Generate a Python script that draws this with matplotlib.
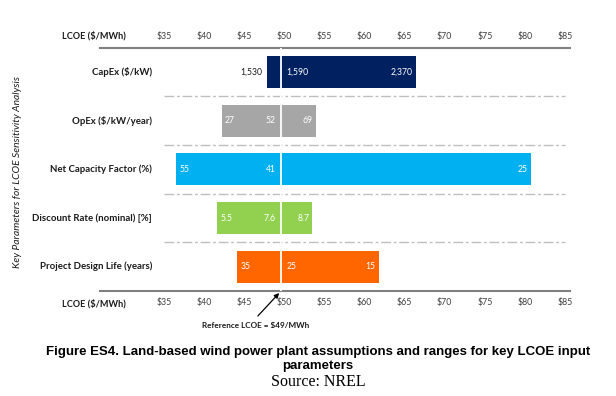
import matplotlib.pyplot as plt

# data
params = ['CapEx ($/kW)', 'OpEx ($/kW/year)', 'Net Capacity Factor (%)',
          'Discount Rate (nominal) [%]', 'Project Design Life (years)']
lcoe_low = [47.8, 42.2, 36.5, 41.6, 44.1]
lcoe_high = [66.4, 53.9, 80.7, 53.5, 61.8]
label_low = ['1,530', '27', '55', '5.5', '35']
label_base = ['1,590', '52', '41', '7.6', '25']
label_high = ['2,370', '69', '25', '8.7', '15']
base_on_right = [True, False, False, False, True]
colors = ['#002060', '#A6A6A6', '#00B0F0', '#92D050', '#FF6600']
ref_lcoe = 49.6
ticks = [35, 40, 45, 50, 55, 60, 65, 70, 75, 80, 85]

plt.rcParams['font.family'] = ['Lato', 'DejaVu Sans']

fig = plt.figure(figsize=(6.16, 3.96), dpi=100)
ax = fig.add_axes([100/616, 1-291/396, 470/616, (291-47.7)/396])

rows = list(range(len(params)))
ax.barh(rows, [h-l for l, h in zip(lcoe_low, lcoe_high)], left=lcoe_low,
        height=0.66, color=colors, edgecolor='none', zorder=2)
ax.axvline(ref_lcoe, color='white', linewidth=1.3, zorder=3)

vsize = 6.2
for i in rows:
    if i > 0:
        ax.plot([35, 85], [i-0.5, i-0.5], color='#BFBFBF', linewidth=1.0,
                linestyle=(0, (7, 2, 2, 2)), zorder=1)
    ax.text(33.5, i, params[i], ha='right', va='center', fontsize=6.9,
            fontweight='bold', color='#1a1a1a')
    # low end label
    if i == 0:
        ax.text(lcoe_low[i]-0.5, i, label_low[i], ha='right', va='center',
                fontsize=vsize, color='#1a1a1a')
    else:
        ax.text(lcoe_low[i]+0.4, i, label_low[i], ha='left', va='center',
                fontsize=vsize, color='white')
    if base_on_right[i]:
        ax.text(ref_lcoe+0.7, i, label_base[i], ha='left', va='center',
                fontsize=vsize, color='white')
    else:
        ax.text(ref_lcoe-0.7, i, label_base[i], ha='right', va='center',
                fontsize=vsize, color='white')
    ax.text(lcoe_high[i]-0.4, i, label_high[i], ha='right', va='center',
            fontsize=vsize, color='white')

ax.set_xlim(27.02, 85.62)
ax.set_ylim(4.5, -0.5)
ax.set_yticks([])
ax.set_xticks(ticks)
ax.set_xticklabels(['$%d' % t for t in ticks])
ax.tick_params(axis='x', length=0, labelsize=6.3, labelcolor='#404040',
               labeltop=True, labelbottom=True, pad=5)
for side in ['left', 'right']:
    ax.spines[side].set_visible(False)
for side in ['top', 'bottom']:
    ax.spines[side].set_color('#7F7F7F')
    ax.spines[side].set_linewidth(1.5)

fig.text(94/616, 1-36/396, 'LCOE ($/MWh)', ha='center', va='center',
         fontsize=6.6, fontweight='bold', color='#1a1a1a')
fig.text(94/616, 1-304/396, 'LCOE ($/MWh)', ha='center', va='center',
         fontsize=6.6, fontweight='bold', color='#1a1a1a')
fig.text(18/616, 1-172/396, 'Key Parameters for LCOE Sensitivity Analysis',
         rotation=90, ha='center', va='center', fontsize=7.4,
         style='italic', color='#1a1a1a')

ax.annotate('', xy=(ref_lcoe, 0.0), xycoords=('data', 'axes fraction'),
            xytext=(256/616, 1-318/396), textcoords='figure fraction',
            arrowprops=dict(arrowstyle='-|>', color='black', lw=0.9,
                            mutation_scale=7),
            annotation_clip=False)
fig.text(256/616, 1-326/396, 'Reference LCOE = $49/MWh', ha='center',
         va='center', fontsize=5.9, fontweight='bold', color='#1a1a1a')

fig.text(318/616, 1-352/396,
         'Figure ES4. Land-based wind power plant assumptions and ranges for key LCOE input',
         ha='center', va='center', fontsize=9.5, fontweight='bold',
         family=['Liberation Sans'])
fig.text(318/616, 1-366/396, 'parameters', ha='center', va='center',
         fontsize=9.5, fontweight='bold', family=['Liberation Sans'])
fig.text(318/616, 1-382/396, 'Source: NREL', ha='center', va='center',
         fontsize=11.5, family=['Liberation Serif'])

plt.savefig('out.png', dpi=100)
